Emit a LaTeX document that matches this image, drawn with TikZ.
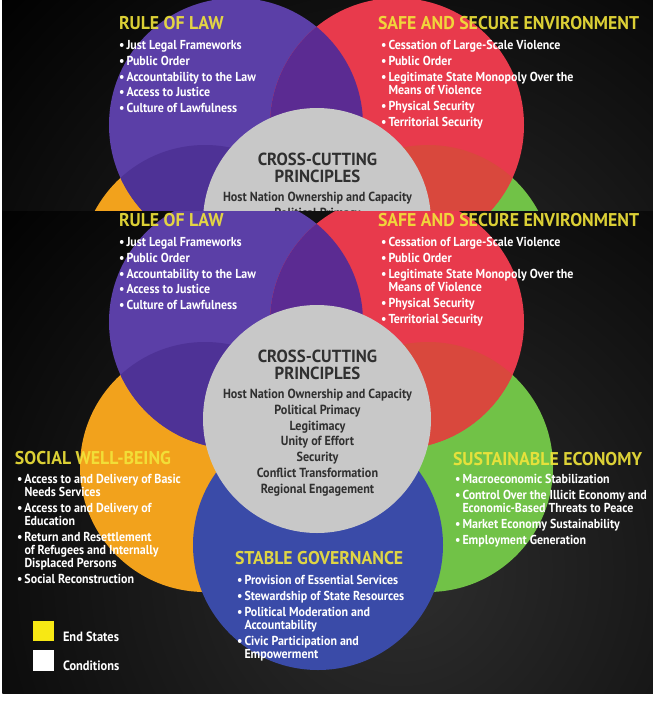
\documentclass[tikz,border=0pt]{standalone}
\usepackage{fontspec}
\setmainfont{PT Sans}[FakeStretch=0.92]
\newfontfamily\headfont{PT Sans}[FakeStretch=0.96]
\usetikzlibrary{calc}

\definecolor{lawpurple}{HTML}{5B3FA7}
\definecolor{safered}{HTML}{E83A4C}
\definecolor{socialorange}{HTML}{F2A21C}
\definecolor{econgreen}{HTML}{71C247}
\definecolor{govblue}{HTML}{3A4BA8}
\definecolor{crossgray}{HTML}{C8C8C8}
\definecolor{lawred}{HTML}{5B2B92}
\definecolor{laworange}{HTML}{4E3296}
\definecolor{redgreen}{HTML}{D9483D}
\definecolor{titleyellow}{HTML}{F2E53A}
\definecolor{legendyellow}{HTML}{F7E814}
\definecolor{crosstext}{HTML}{303030}
\definecolor{glowgray}{HTML}{2E2E2E}

\newcommand{\bul}{\makebox[7.5pt][l]{•}}
\newcommand{\ind}{\hspace*{7.5pt}}

% the five circles and the core
\newcommand{\venncircles}{%
  \shade[inner color=glowgray, outer color=black] (400,570) circle (560pt);
  \fill[socialorange] (205,467) circle (125pt);
  \fill[econgreen] (428,467) circle (125pt);
  \fill[govblue] (318,545) circle (125pt);
  \fill[lawpurple] (236,322) circle (127pt);
  \fill[safered] (397,322) circle (127pt);
  \begin{scope}
    \clip (236,322) circle (127pt);
    \fill[lawred] (397,322) circle (127pt);
    \fill[laworange] (205,467) circle (125pt);
  \end{scope}
  \begin{scope}
    \clip (397,322) circle (127pt);
    \fill[redgreen] (428,467) circle (125pt);
  \end{scope}
  \fill[crossgray] (317,419) circle (114pt);
}

% upper texts (list nodes sit on the baseline of their last line)
\newcommand{\venntop}{%
  \node[endstate] (lawtitle) at (119,226) {RULE OF LAW};
  \node[condlist] (lawlist) at (119,309.6) {\bul Just Legal Frameworks\\[2.75pt]
    \bul Public Order\\[2.75pt]
    \bul Accountability to the Law\\[2.75pt]
    \bul Access to Justice\\[2.75pt]
    \bul Culture of Lawfulness};
  \node[endstate] (safetitle) at (378,226) {SAFE AND SECURE ENVIRONMENT};
  \node[condlist] (safelist) at (381,323.3) {\bul Cessation of Large-Scale Violence\\[3pt]
    \bul Public Order\\[3pt]
    \bul Legitimate State Monopoly Over the\\
    \ind Means of Violence\\[3pt]
    \bul Physical Security\\[3pt]
    \bul Territorial Security};
  \node[crosstitle] (crosstitle) at (317.5,379) {CROSS-CUTTING\\PRINCIPLES};
  \node[crosslist] (crosslist) at (317.5,493.6) {Host Nation Ownership and Capacity\\
    Political Primacy\\
    Legitimacy\\
    Unity of Effort\\
    Security\\
    Conflict Transformation\\
    Regional Engagement};
}

% lower texts and key
\newcommand{\vennbottom}{%
  \node[endstate] (socialtitle) at (15,464.5) {SOCIAL WELL-BEING};
  \node[condlist] (sociallist) at (17,583.3) {\bul Access to and Delivery of Basic\\
    \ind Needs Services\\[3pt]
    \bul Access to and Delivery of\\
    \ind Education\\[3pt]
    \bul Return and Resettlement\\
    \ind of Refugees and Internally\\
    \ind Displaced Persons\\[3pt]
    \bul Social Reconstruction};
  \node[endstate] (econtitle) at (453,465) {SUSTAINABLE ECONOMY};
  \node[condlist] (econlist) at (455,544) {\bul Macroeconomic Stabilization\\[3pt]
    \bul Control Over the Illicit Economy and\\
    \ind Economic-Based Threats to Peace\\[3pt]
    \bul Market Economy Sustainability\\[3pt]
    \bul Employment Generation};
  \node[endstate] (govtitle) at (235,564.5) {STABLE GOVERNANCE};
  \node[condlist] (govlist) at (237,658.6) {\bul Provision of Essential Services\\[3pt]
    \bul Stewardship of State Resources\\[3pt]
    \bul Political Moderation and\\
    \ind Accountability\\[3pt]
    \bul Civic Participation and\\
    \ind Empowerment};
  % key
  \fill[legendyellow] (33,621) rectangle (54,641);
  \fill[white] (33,650) rectangle (54,671);
  \node[keytext] (endkey) at (63,641) {End States};
  \node[keytext] (condkey) at (63,670) {Conditions};
}

\begin{document}
\begin{tikzpicture}[x=1pt, y=-1pt,
  every node/.style={inner sep=0pt, outer sep=0pt},
  endstate/.style={anchor=base west, text=titleyellow, text opacity=0.9,
    font=\headfont\bfseries\fontsize{18.5}{20}\selectfont},
  condlist/.style={anchor=base west, text=white, align=left,
    font=\bfseries\fontsize{13}{13}\selectfont},
  crosstitle/.style={anchor=base, text=crosstext, align=center,
    font=\headfont\bfseries\fontsize{17.5}{16.5}\selectfont},
  crosslist/.style={anchor=base, text=crosstext, align=center,
    font=\bfseries\fontsize{13.2}{15.9}\selectfont},
  keytext/.style={anchor=base west, text=white, font=\bfseries\fontsize{13.5}{14}\selectfont}]

\useasboundingbox (0,0) rectangle (653,702);
\fill[white] (0,0) rectangle (653,702);
\fill[black] (2.3,0) rectangle (653,693.3);

% whole chart
\begin{scope}
  \clip (2.3,210.5) rectangle (653,693.3);
  \begin{scope}[name prefix=m-]
    \venncircles
    \venntop
    \vennbottom
  \end{scope}
\end{scope}

% repeated upper band
\begin{scope}
  \clip (2.3,0) rectangle (653,210.5);
  \begin{scope}[shift={(0,-197)}, name prefix=s-]
    \venncircles
    \venntop
  \end{scope}
\end{scope}

\end{tikzpicture}
\end{document}
